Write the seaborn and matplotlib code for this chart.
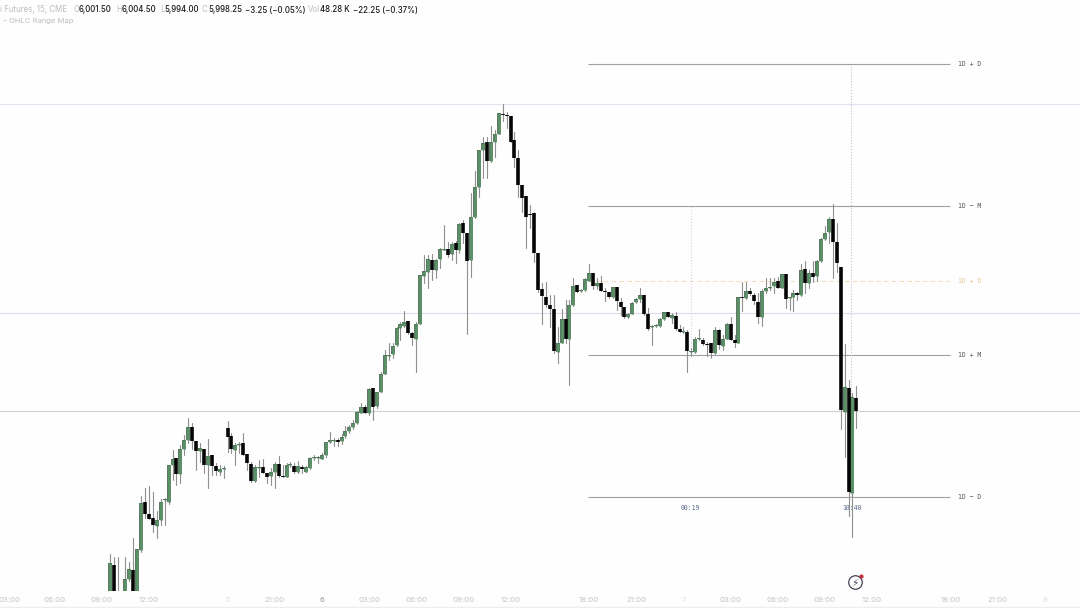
import numpy as np
import pandas as pd
import seaborn as sns
import matplotlib.pyplot as plt

# 15 min bars, one entry per bar
opens = [5951,5959.75,5952.25,5950,5951,5956.25,5958.5,5952.25,5963.5,5975.5,
5972.5,5971.5,5969.5,5971,5976,5975.5,5984.75,5986.5,5982.5,5988.75,
5991,5994.25,5990.75,5988.25,5988.75,5984.75,5987.25,5984.5,5983,5983.75,
5994,5992,5988.5,5989.75,5990.25,5987.5,5985,5980.75,5984,5984.25,
5982.75,5982,5983,5985,5982,5981.75,5984.75,5984.5,5983,5984.25,
5983,5984,5986.5,5986.5,5986.25,5987.25,5990.5,5990.75,5991,5990.75,
5992,5993.25,5994.25,5995.25,5997.75,5999.25,5997.75,6004,5999.5,6003,
6007.5,6012,6012.5,6014.75,6019,6019.5,6020.75,6017.75,6016.25,6020,
6032,6033,6036,6033.5,6036.25,6038.5,6038.75,6037.5,6040.25,6038.5,
6045.25,6042.75,6036,6046.75,6054.25,6063.5,6065.5,6060.75,6065.5,6067.5,
6072.5,6072.25,6072,6066,6061.5,6054.75,6052,6047.5,6047.75,6037.75,
6028.75,6026.75,6024.75,6023.75,6013,6015.25,6021.25,6016.25,6024.75,6029.75,
6028.25,6028.5,6030.75,6032.75,6029.5,6030.25,6028.25,6028,6026.75,6029.25,
6025.5,6024.25,6021.75,6022.5,6025.5,6026.25,6027.25,6022.5,6019.25,6019.5,
6019.5,6021.25,6023,6021.5,6022,6018.75,6018,6018,6013,6013,
6016.25,6016,6015,6015.25,6012.75,6018.5,6014.5,6016.25,6020,6016,
6015.25,6026.75,6026.5,6028.25,6027.25,6025.5,6021.75,6028.25,6029,6029.5,
6030.75,6029,6032.5,6026.5,6026.75,6027.75,6027.25,6033.75,6030.25,6032.75,
6032,6035.75,6041.25,6043,6046.25,6040.5,6034.25,5998,6004,5977.75,
6001.5]
closes = [5960.25,5951,5951,5949,5956.25,5958.75,5952.25,5963.75,5975.25,5972.5,
5971.25,5969.75,5971,5975.5,5976.25,5984.75,5986.25,5982.5,5988.75,5991,
5994.25,5990.75,5988.25,5989,5984.75,5987,5984.5,5983.25,5983.75,5984,
5991.75,5988.75,5989.75,5990,5987.25,5985.25,5980.75,5984.25,5984.25,5982.75,
5981.75,5983,5985,5982,5981.75,5984.75,5985,5983,5984.5,5983.75,
5984.25,5986.5,5986.75,5986.75,5987.25,5990.5,5991,5991,5990.5,5991.75,
5993.25,5994.25,5995.25,5998,5999.25,5997.75,6003.75,5999.25,6003,6007.5,
6012.25,6012.25,6014.5,6019,6020,6020.5,6017.75,6016.5,6020,6032.25,
6033.25,6036.25,6033.5,6036,6038.75,6038.75,6037.25,6040,6038.5,6045,
6042.75,6035.75,6046.75,6054.25,6063.5,6065.25,6060.75,6065.5,6067.5,6072.75,
6072.25,6072,6065.5,6061.5,6054.75,6051.5,6046.75,6047.25,6037.75,6028.5,
6027,6024.75,6023.75,6013.25,6015.25,6021.25,6016.25,6024.75,6029.5,6028,
6028.5,6031.25,6032.75,6029.5,6030.25,6028.25,6028,6026.75,6029.25,6025.75,
6024.25,6021.75,6022.5,6025.25,6026.25,6027.25,6022.5,6018.75,6019.5,6019.75,
6021.25,6023,6021.75,6022.25,6018.75,6018,6018.25,6013.25,6013.25,6016.25,
6016.5,6015,6014.75,6012.75,6018.5,6014.75,6016.25,6020,6016,6015.25,
6026.75,6026.5,6028.25,6027.5,6025.75,6021.75,6028.25,6029,6029.25,6030.5,
6029,6032.5,6026.25,6026.75,6027.75,6027.25,6033.5,6030.25,6032.75,6031.75,
6035.75,6041.25,6042.75,6046.25,6040.5,6035.25,5998.5,6004.25,5978,6001.75,
5998.25]
highs = [5962.5,5961.75,5961.75,5950.5,5961.75,5960.5,5966.5,5963.75,5977,5979,
5979.5,5978,5973.25,5976.25,5976.5,5984.75,5988.5,5986.5,5989.75,5992.25,
5996.5,5995.25,5990.75,5990.25,5988.75,5991.25,5987.25,5985.25,5984.75,5984.5,
5995.75,5992.75,5990.25,5990.5,5992.75,5987.5,5985.5,5984.75,5986,5986.25,
5982.75,5984,5985.5,5987,5984.75,5985.25,5985.5,5985.25,5985.75,5984.75,
5984.5,5986.75,5987.25,5987,5987.75,5990.5,5993,5991.5,5991.5,5992.5,
5994.5,5994.75,5996,5998.25,6000.25,5999.75,6004,6004,6003,6008,
6013.5,6015.25,6015.25,6019.25,6020.5,6023.25,6020.75,6018,6020.5,6032.25,
6037.25,6037.25,6037.5,6036.25,6039,6044.75,6040.5,6040.5,6040.75,6045.25,
6046,6042.75,6052.75,6058.25,6063.5,6066.75,6066.75,6069.5,6068.5,6072.75,
6075,6073,6072,6068,6063.5,6054.75,6052,6049.75,6048,6037.75,
6030.25,6030.5,6027.25,6027.25,6019.25,6023.75,6026,6026,6031.5,6029.75,
6028.75,6031.5,6035,6032.75,6031.5,6032,6029,6028,6029.25,6029.25,
6026.5,6024.25,6022.75,6025.5,6026.5,6029,6027.25,6024,6019.75,6020,
6021.5,6023,6023,6022.75,6023,6019.75,6019.25,6018.5,6014,6016.75,
6018.75,6016.5,6015.5,6015.25,6019.25,6018.75,6017.25,6020.25,6021.75,6017.25,
6026.75,6030.5,6030.5,6029,6027.75,6027.75,6028.75,6031.5,6031.5,6031.5,
6031.75,6032.5,6032.5,6026.75,6028.5,6028,6035,6035.75,6033.5,6035.75,
6036,6041.5,6044.5,6046.75,6050,6045.25,6034.25,6015,6006,6002.75,
6004.5]
lows = [5948.5,5948.5,5948.5,5948,5949,5955.75,5951,5951,5963,5971.5,
5971.25,5968,5966.5,5969.75,5969.75,5975,5981,5979.75,5980.25,5987.25,
5990.25,5988.75,5983.5,5985.5,5982.75,5979,5982.25,5982.25,5982.25,5981.5,
5988,5987.75,5984.75,5987.75,5987.25,5983.5,5980.5,5980.5,5981.75,5982.75,
5980.25,5979.75,5979,5981.75,5981.75,5981.75,5984.25,5982.75,5982.75,5982.75,
5983,5983.75,5986,5985.25,5986.25,5986.75,5990.25,5989.5,5989.5,5990,
5991.5,5992.75,5993.75,5995,5997.75,5997.75,5997.25,5996,5999,6003,
6007.5,6011,6011.5,6014.5,6016,6019.25,6017.5,6014.75,6008,6020,
6030.25,6029,6031,6031.5,6034,6038.5,6036.75,6036,6035.25,6037.75,
6040.25,6017.5,6031.75,6046.5,6051.75,6056.5,6056.5,6060.5,6061.75,6067.5,
6070.75,6069,6065.5,6059.25,6051.75,6048,6039,6044,6035.5,6028,
6020,6024.25,6019.25,6012.75,6010.25,6015.25,6015.25,6004.75,6024.5,6028,
6028,6028.25,6030.75,6028.75,6028.75,6028.25,6025.75,6026.5,6026.5,6023.5,
6022.25,6021.5,6021.5,6022.5,6025.25,6025.5,6022.25,6018.5,6014.75,6019.25,
6019.25,6021,6021.75,6020.25,6018.5,6018,6017.75,6008,6012,6012.75,
6016,6014.75,6012,6011.5,6012.5,6013.75,6013.5,6016.25,6016,6014.25,
6015.25,6023.25,6026.25,6027.25,6025,6020.25,6019.5,6027.75,6028.5,6027.75,
6029,6029,6024,6023.5,6023.25,6026,6027,6027.75,6029,6030.5,
6030.75,6035.5,6041,6040.25,6031.5,6033,5993.75,5986.75,5972,5966.75,
5994]

# full width levels, range map levels and their labels
full_levels = [6075, 6022.75, 5998.25]
full_colors = ['#e9dff0', '#e4d9ea', '#d4ced9']
map_levels = [6085, 6049.5, 6012.25, 5976.75]
map_labels = ['1D + D', '1D − M', '1D + M', '1D − D']
open_level = 6030.75
open_label = '1D + O'

tick_bars = [-25.4,-14,-2,10,30,42,54,66,78,90,102,122,134,146,158,170,182,194,214,226,238]
tick_labels = ['03:00','06:00','09:00','12:00','5','21:00','6','03:00','06:00','09:00','12:00',
               '18:00','21:00','7','03:00','06:00','09:00','12:00','18:00','21:00','8']

sns.set_theme(style='white')
plt.rcParams['font.family'] = ['Inter', 'DejaVu Sans']

bars = np.arange(len(opens))
df = pd.DataFrame({'bar': bars, 'open': opens, 'close': closes, 'high': highs, 'low': lows})
df['up'] = df['close'] >= df['open']
wicks = df.melt(id_vars=['bar'], value_vars=['high', 'low'], value_name='price')
bodies = df.melt(id_vars=['bar', 'up'], value_vars=['open', 'close'], value_name='price')
up_bodies = bodies[bodies['up']]
down_bodies = bodies[~bodies['up']]

fig = plt.figure(figsize=(10.8, 6.08), dpi=100, facecolor='#fefefe')
ax = fig.add_axes([0, 17 / 608, 1, 591 / 608], facecolor='#fefefe')

for level, color in zip(full_levels, full_colors):
    ax.axhline(level, color=color, lw=0.8, zorder=1)
ax.hlines(map_levels, 121.7, 213.8, color='#a09fa3', lw=0.8, zorder=1)
ax.hlines(open_level, 121.7, 213.8, color='#eedfc4', lw=0.8, ls=(0, (4, 3)), zorder=1)

# session markers
ax.vlines(147.8, 6012.25, 6049.5, color='#d9cfe0', lw=0.8, ls=':', zorder=1)
ax.vlines(188.75, 5976.75, 6085, color='#c9bfd0', lw=0.8, ls=':', zorder=1)

sns.lineplot(data=wicks, x='bar', y='price', units='bar', estimator=None, color='#909090',
             lw=0.8, legend=False, ax=ax, zorder=2)
sns.lineplot(data=up_bodies, x='bar', y='price', units='bar', estimator=None, color='#46684f',
             lw=2.7, solid_capstyle='butt', legend=False, ax=ax, zorder=3)
sns.lineplot(data=up_bodies, x='bar', y='price', units='bar', estimator=None, color='#5c9268',
             lw=2.0, solid_capstyle='butt', legend=False, ax=ax, zorder=4)
sns.lineplot(data=down_bodies, x='bar', y='price', units='bar', estimator=None, color='#050505',
             lw=2.6, solid_capstyle='butt', legend=False, ax=ax, zorder=4)

ax.set_xlim(-27.9, 246.9)
ax.set_ylim(5953.25, 6101)
ax.set_xlabel('')
ax.set_ylabel('')
ax.set_yticks([])
ax.set_xticks(tick_bars)
ax.set_xticklabels(tick_labels, fontsize=5.6)
ax.tick_params(axis='x', length=0, pad=4)
for lab in ax.get_xticklabels():
    if lab.get_text() == '6':
        lab.set_color('#9a9a9a')
    elif lab.get_text() in ['5', '7', '8']:
        lab.set_color('#e2e2e2')
    else:
        lab.set_color('#c4c4c4')
sns.despine(ax=ax, left=True, bottom=True)

for level, label in zip(map_levels, map_labels):
    ax.text(215.8, level, label, family='DejaVu Sans Mono', fontsize=4.7, color='#55535a', va='center')
ax.text(215.8, open_level, open_label, family='DejaVu Sans Mono', fontsize=4.7, color='#e3c48e', va='center')
ax.text(147.8, 5974, '00:19', family='DejaVu Sans Mono', fontsize=4.7, color='#5d6a8e', ha='center', va='center')
ax.text(188.75, 5974, '10:40', family='DejaVu Sans Mono', fontsize=4.7, color='#5d6a8e', ha='center', va='center')

# flash icon
ax.scatter([189.7], [5955.5], s=95, facecolor='#fefefe', edgecolor='#4a4258', lw=0.9, zorder=5)
ax.text(189.7, 5955.4, '\u26a1', family='DejaVu Sans', fontsize=7.5, color='#4a4258', ha='center', va='center', zorder=6)
ax.scatter([191.1], [5957.0], s=9, color='#c0303a', lw=0, zorder=7)

# header line
grey = '#bdbdbd'
dark = '#1c1c1f'
header = [(0, 'i Futures, 15, CME', grey), (73, 'O', grey), (79, '6,001.50', dark), (116, 'H', grey),
          (122, '6,004.50', dark), (160, 'L', grey), (164, '5,994.00', dark), (202, 'C', grey),
          (208, '5,998.25', dark), (245, '−3.25 (−0.05%)', dark), (308, 'Vol', grey),
          (320, '48.28 K', dark), (353, '−22.25 (−0.37%)', dark)]
for px, txt, col in header:
    fig.text(px / 1080, 1 - 10 / 608, txt, fontsize=5.7, color=col, va='center',
             fontweight='medium' if col == dark else 'normal')
fig.text(3 / 1080, 1 - 21 / 608, '– OHLC Range Map', fontsize=5.5, color=grey, va='center')

# bottom edge of the time scale
fig.add_artist(plt.Line2D([0, 1], [1.5 / 608, 1.5 / 608], color='#eeeeee', lw=1))

fig.savefig('out.png', dpi=100, facecolor=fig.get_facecolor())
